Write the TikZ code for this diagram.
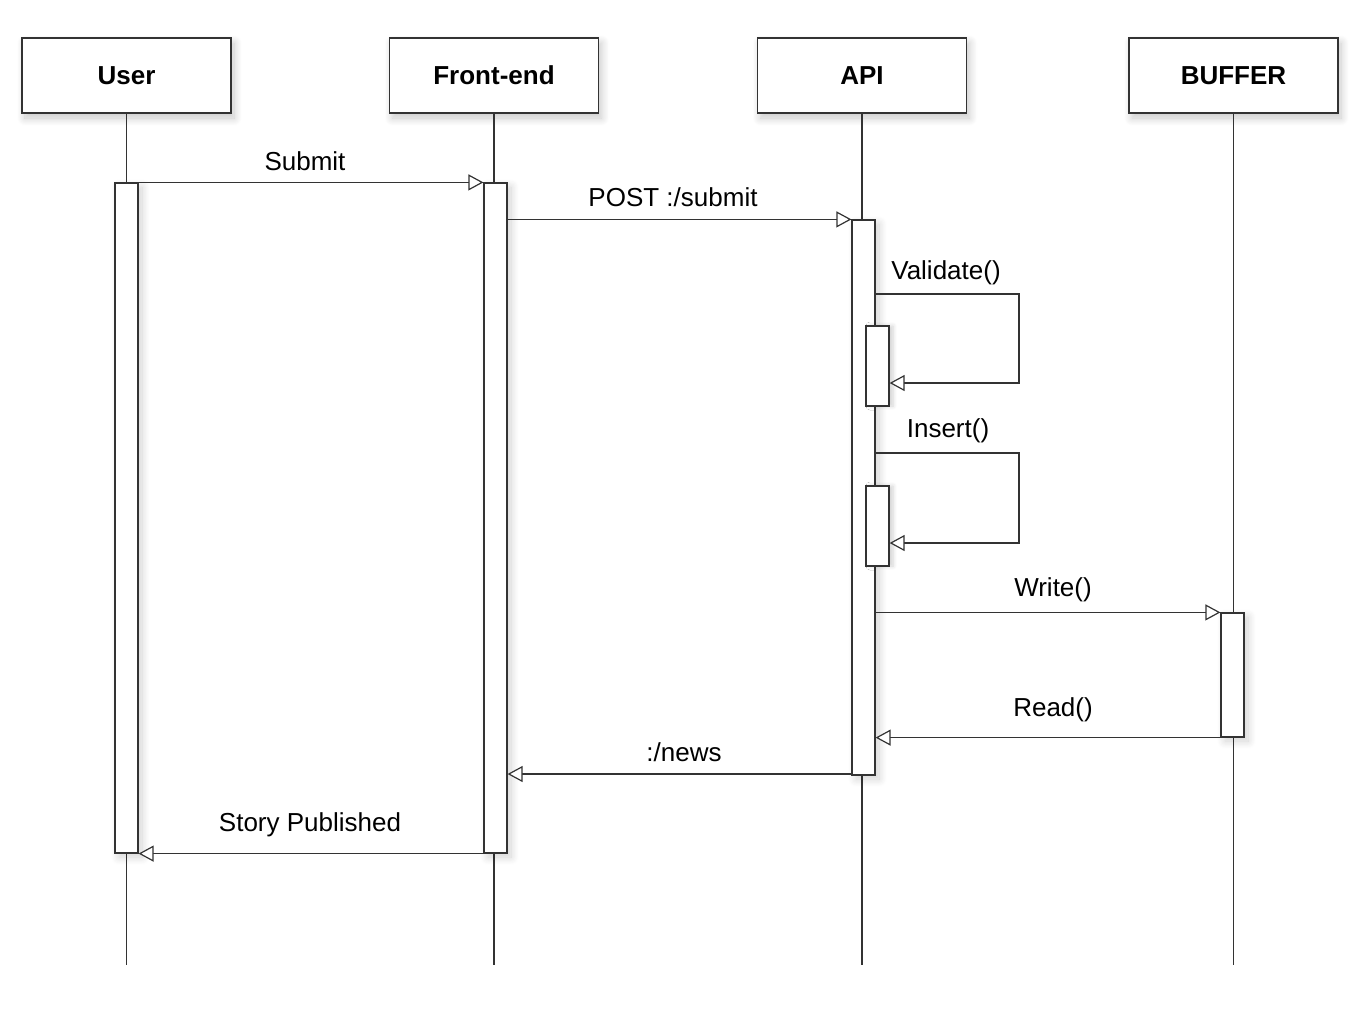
\documentclass[tikz,border=0pt]{standalone}
\usepackage{fontspec}
\setmainfont{Liberation Sans}
\usetikzlibrary{arrows.meta,shadows.blur}
\begin{document}
\begin{tikzpicture}[x=1pt,y=-1pt,
  ln/.style={draw=black!80,line width=1.2pt},
  head/.style={ln,fill=white,minimum width=209pt,minimum height=75pt,inner sep=0pt,
    font=\fontsize{26}{30}\selectfont\bfseries,
    blur shadow={shadow xshift=3pt,shadow yshift=-5pt,shadow opacity=22,shadow blur steps=10,shadow blur radius=8pt}},
  act/.style={ln,fill=white,minimum width=23pt,inner sep=0pt,
    blur shadow={shadow xshift=4pt,shadow yshift=-4pt,shadow opacity=18,shadow blur steps=10,shadow blur radius=8pt}},
  sact/.style={ln,fill=white,minimum width=23pt,inner sep=0pt,
    blur shadow={shadow xshift=4pt,shadow yshift=0pt,shadow opacity=18,shadow blur steps=6,shadow blur radius=4pt}},
  msg/.style={ln,-{Triangle[open,length=15pt,width=16pt,fill=white]}},
  lbl/.style={font=\fontsize{26}{30}\selectfont,inner sep=0pt,anchor=center}]
\useasboundingbox (0,0) rectangle (1368,1010);
% heads
\node[head] (user) at (126.5,75.5) {\raisebox{-2pt}{User}};
\node[head] (fe) at (494,75.5) {\raisebox{-2pt}{Front-end}};
\node[head] (api) at (862,75.5) {\raisebox{-2pt}{API}};
\node[head] (buf) at (1233.5,75.5) {\raisebox{-2pt}{BUFFER}};
% lifeline ends
\coordinate (userE) at (126.5,965);
\coordinate (feE) at (494,965);
\coordinate (apiE) at (862,965);
\coordinate (bufE) at (1233.5,965);
\draw[ln] (user.south) -- (userE);
\draw[ln] (fe.south) -- (feE);
\draw[ln] (api.south) -- (apiE);
\draw[ln] (buf.south) -- (bufE);
% activations
\node[act,minimum height=670pt] (uact) at (126.5,518) {};
\node[act,minimum height=670pt] (fact) at (495.5,518) {};
\node[act,minimum height=555pt] (aact) at (863.5,497.5) {};
\node[sact,minimum height=80pt] (val) at (877.5,366) {};
\node[sact,minimum height=80pt] (ins) at (877.5,526) {};
\node[act,minimum height=124pt] (bact) at (1232.5,675) {};
% loop coordinates
\coordinate (v1) at (875,294);
\coordinate (v2) at (1019,294);
\coordinate (v3) at (1019,383);
\coordinate (i1) at (875,453);
\coordinate (i2) at (1019,453);
\coordinate (i3) at (1019,543);
% messages
\draw[msg] (uact.north east) -- (fact.north west);
\node[lbl] (lsub) at (305,161) {Submit};
\draw[msg] (fact.east |- aact.north) -- (aact.north west);
\node[lbl] (lpost) at (673,197) {POST :/submit};
\draw[msg] (v1) -- (v2) -- (v3) -- (v3 -| val.east);
\node[lbl] (lval) at (946,273) {Validate()};
\draw[msg] (i1) -- (i2) -- (i3) -- (i3 -| ins.east);
\node[lbl] (lins) at (948,431) {Insert()};
\draw[msg] (aact.east |- bact.north) -- (bact.north west);
\node[lbl] (lwr) at (1053,590) {Write()};
\draw[msg] (bact.south west) -- (aact.east |- bact.south);
\node[lbl] (lrd) at (1053,710) {Read()};
\draw[msg] (aact.south west |- 0,774) -- (fact.east |- 0,774);
\node[lbl] (lnews) at (684,752) {:/news};
\draw[msg] (fact.south west) -- (uact.south east);
\node[lbl] (lstory) at (310,825) {Story Published};
\end{tikzpicture}
\end{document}
